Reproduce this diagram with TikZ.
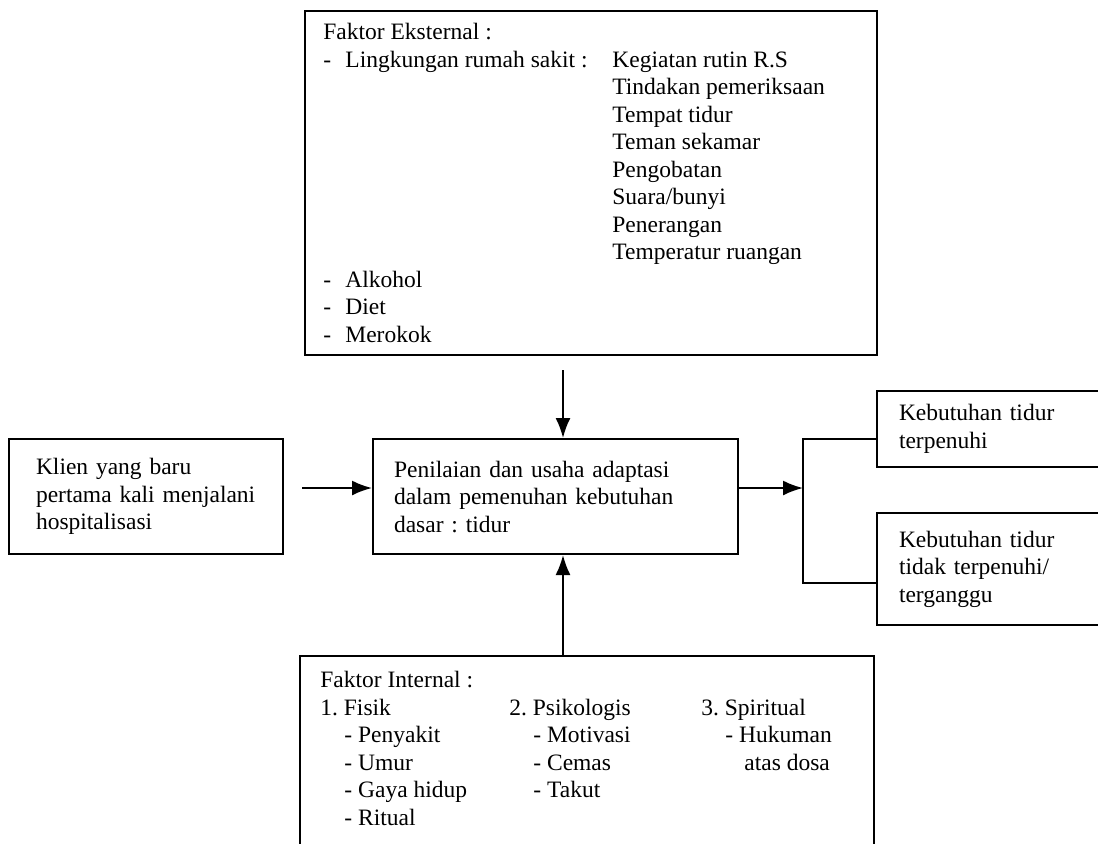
\documentclass[tikz,border=0pt]{standalone}
\usepackage{fontspec}
\setmainfont{Liberation Serif}
\usetikzlibrary{arrows.meta,positioning}
\frenchspacing
\newcommand{\itm}{\makebox[11pt][l]{-}}
\newcommand{\subitm}{\hspace*{12pt}- }

\begin{document}
\begin{tikzpicture}[x=0.5pt,y=-0.5pt,
    box/.style={draw,line width=1pt,inner sep=0pt},
    txt/.style={inner sep=0pt,font=\fontsize{11.75}{13.75}\selectfont},
    kotak/.style={draw,line width=1pt,align=left,inner ysep=0pt,
      font=\fontsize{11.75}{13.75}\selectfont},
    arr/.style={line width=1pt,-{Latex[length=10pt,width=7.5pt]}}]
  \useasboundingbox (0,0) rectangle (1098,843);
  \clip (0,0) rectangle (1098,843);
  % faktor eksternal
  \node[box,anchor=north west,minimum width=286pt,minimum height=172pt] (ext) at (304,10) {};
  \node[txt,anchor=north west] (extT) at ([shift={(9.5pt,-5pt)}]ext.north west) {%
    \begin{tabular}{@{}p{144.5pt}@{}l@{}}
      Faktor Eksternal : & \\
      \itm Lingkungan rumah sakit : & Kegiatan rutin R.S\\
      & Tindakan pemeriksaan\\
      & Tempat tidur\\
      & Teman sekamar\\
      & Pengobatan\\
      & Suara/bunyi\\
      & Penerangan\\
      & Temperatur ruangan\\
      \itm Alkohol & \\
      \itm Diet & \\
      \itm Merokok &
    \end{tabular}};
  % baris tengah
  \node[kotak,anchor=north west,text width=110pt,inner xsep=13.5pt,minimum height=57.5pt] (klien) at (8,438)
    {Klien yang baru\\pertama kali menjalani\\hospitalisasi};
  \node[kotak,anchor=north west,text width=161.5pt,inner xsep=10.5pt,minimum height=57.5pt] (nilai) at (372,438)
    {Penilaian dan usaha adaptasi\\dalam pemenuhan kebutuhan\\dasar : tidur};
  \node[kotak,anchor=north west,text width=150pt,inner xsep=11pt,minimum height=38pt] (penuhi) at (876,390)
    {Kebutuhan tidur\\terpenuhi};
  \node[kotak,anchor=north west,text width=150pt,inner xsep=11pt,minimum height=56pt] (ganggu) at (876,512)
    {Kebutuhan tidur\\tidak terpenuhi/\\terganggu};
  % faktor internal
  \node[box,anchor=north west,minimum width=287pt,minimum height=125pt] (intern) at (299,655) {};
  \node[txt,anchor=north west] (internT) at ([shift={(10.5pt,-6.5pt)}]intern.north west) {%
    \begin{tabular}{@{}p{94.5pt}@{}p{96pt}@{}l@{}}
      \multicolumn{3}{@{}l@{}}{Faktor Internal :}\\
      1. Fisik & 2. Psikologis & 3. Spiritual\\
      \subitm Penyakit & \subitm Motivasi & \subitm Hukuman\\
      \subitm Umur & \subitm Cemas & \hspace*{21.5pt}atas dosa\\
      \subitm Gaya hidup & \subitm Takut & \\
      \subitm Ritual & &
    \end{tabular}};
  % penghubung
  \coordinate (mx) at (563,495);
  \coordinate (jM) at (803,488);
  \coordinate (jT) at (803,439);
  \coordinate (jB) at (803,583);
  \draw[arr,shorten <=7pt] (ext.south -| mx) -- (nilai.north -| mx);
  \draw[arr] (intern.north -| mx) -- (nilai.south -| mx);
  \draw[arr,shorten <=9pt] (jM -| klien.east) -- (jM -| nilai.west);
  \draw[arr] (jM -| nilai.east) -- (jM);
  \draw[line width=1pt] (penuhi.west |- jT) -- (jT) -- (jB) -- (ganggu.west |- jB);
\end{tikzpicture}
\end{document}
